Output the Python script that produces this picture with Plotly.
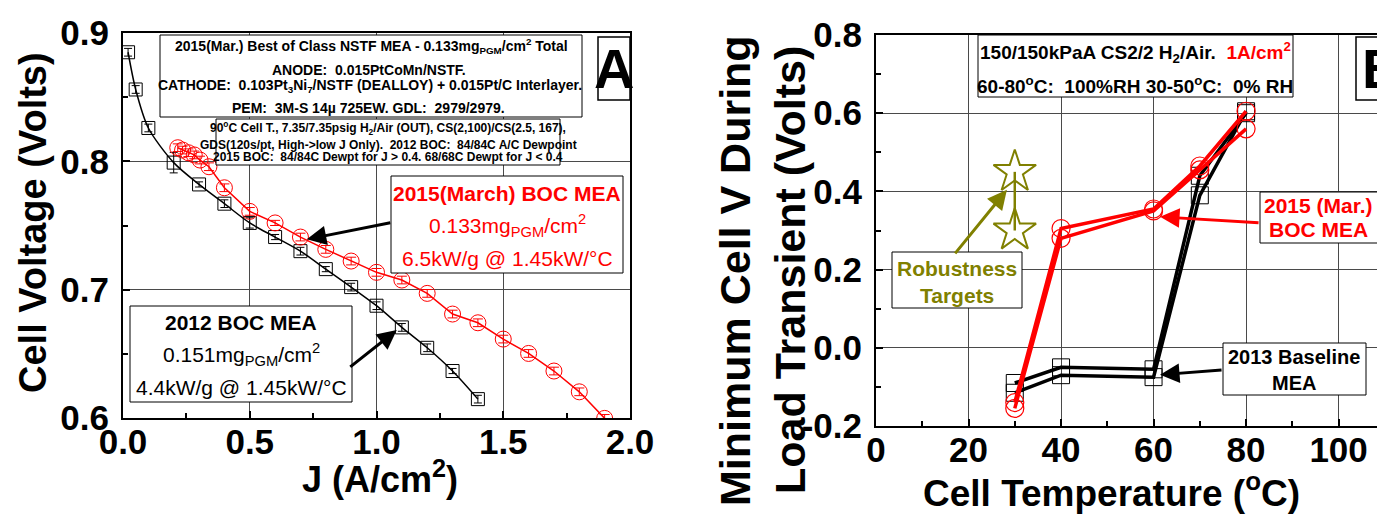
import plotly.graph_objects as go

W, H = 1377, 514
FONT = "Liberation Sans"
NARROW = "Liberation Sans Narrow, Arial Narrow, Liberation Sans"
OLIVE = "#808000"

# ---------------- Panel A data ----------------
j_2012 = [0.02, 0.05, 0.1, 0.2, 0.3, 0.4, 0.5, 0.6, 0.7, 0.8, 0.9, 1.0, 1.1, 1.2, 1.3, 1.4]
v_2012 = [0.885, 0.856, 0.826, 0.799, 0.782, 0.767, 0.752, 0.741, 0.730, 0.716, 0.702,
          0.6875, 0.6706, 0.6547, 0.6366, 0.6147]
e_2012 = [0.003, 0.003, 0.003, 0.008, 0.002, 0.003, 0.004, 0.002, 0.003, 0.002, 0.003,
          0.003, 0.003, 0.003, 0.002, 0.003]

j_2015 = [0.216, 0.235, 0.258, 0.281, 0.304, 0.339, 0.4, 0.5, 0.6, 0.7, 0.8, 0.9, 1.0,
          1.1, 1.2, 1.3, 1.4, 1.5, 1.6, 1.7, 1.8, 1.9]
v_2015 = [0.8106, 0.8088, 0.8067, 0.805, 0.801, 0.7958, 0.7794, 0.761, 0.752, 0.741,
          0.7314, 0.7223, 0.7135, 0.7075, 0.6971, 0.681, 0.6742, 0.6615, 0.6503, 0.6366,
          0.6204, 0.5997]
e_2015 = [0.003, 0.003, 0.003, 0.003, 0.003, 0.003, 0.003, 0.003, 0.002, 0.003, 0.003,
          0.003, 0.003, 0.003, 0.003, 0.003, 0.003, 0.003, 0.003, 0.003, 0.003, 0.003]

xA_ticks = [0.0, 0.5, 1.0, 1.5, 2.0]
yA_ticks = [0.6, 0.7, 0.8, 0.9]

# ---------------- Panel B data ----------------
temp = [30, 40, 60, 70, 80]
base_run1 = [-0.09, -0.05, -0.055, 0.44, 0.60]
base_run2 = [-0.115, -0.07, -0.075, 0.39, 0.605]
boc_run1 = [-0.14, 0.305, 0.355, 0.465, 0.605]
boc_run2 = [-0.155, 0.28, 0.35, 0.455, 0.56]
target_temp = [30, 30]
target_v = [0.30, 0.45]

xB_ticks = [0, 20, 40, 60, 80, 100]
yB_ticks = [-0.2, 0.0, 0.2, 0.4, 0.6, 0.8]
yB_labels = ["-0.2", "0.0", "0.2", "0.4", "0.6", "0.8"]

fig = go.Figure()

# Panel A traces
fig.add_trace(go.Scatter(
    x=j_2012, y=v_2012, mode="lines+markers", xaxis="x", yaxis="y",
    line=dict(color="black", width=1.5, shape="spline", smoothing=0.8),
    marker=dict(symbol="square-open", size=13, color="black", line=dict(width=1)),
    error_y=dict(type="data", array=e_2012, color="black", thickness=1, width=4),
    showlegend=False, cliponaxis=True))
fig.add_trace(go.Scatter(
    x=j_2015, y=v_2015, mode="lines+markers", xaxis="x", yaxis="y",
    line=dict(color="red", width=1.5),
    marker=dict(symbol="circle-open", size=16, color="red", line=dict(width=1)),
    error_y=dict(type="data", array=e_2015, color="red", thickness=1, width=5),
    showlegend=False, cliponaxis=True))

# Panel B traces
for run in (base_run1, base_run2):
    fig.add_trace(go.Scatter(
        x=temp, y=run, mode="lines+markers", xaxis="x2", yaxis="y2",
        line=dict(color="black", width=3.5),
        marker=dict(symbol="square-open", size=17, color="black", line=dict(width=1)),
        showlegend=False))
for run in (boc_run1, boc_run2):
    fig.add_trace(go.Scatter(
        x=temp, y=run, mode="lines+markers", xaxis="x2", yaxis="y2",
        line=dict(color="red", width=3.5),
        marker=dict(symbol="circle-open", size=18, color="red", line=dict(width=1.2)),
        showlegend=False))
fig.add_trace(go.Scatter(
    x=target_temp, y=target_v, mode="lines+markers", xaxis="x2", yaxis="y2",
    line=dict(color=OLIVE, width=2.5),
    marker=dict(symbol="star-open", size=32, color=OLIVE, line=dict(width=2)),
    showlegend=False))

grid = "#4a4a4a"
tickfont = dict(family=FONT, size=35, color="black", weight="bold")

def ax_common():
    return dict(showline=True, linecolor="black", linewidth=2, mirror=True,
                showgrid=True, gridcolor=grid, gridwidth=1,
                ticks="inside", ticklen=7, tickwidth=1.5, tickcolor="black",
                zeroline=False, automargin=False, tickfont=tickfont)

fig.update_layout(
    width=W, height=H, margin=dict(l=0, r=0, t=0, b=0),
    paper_bgcolor="white", plot_bgcolor="white",
    xaxis=dict(domain=[123 / W, 630 / W], range=[0, 2.0], tickvals=xA_ticks,
               tickformat=".1f", anchor="y",
               minor=dict(ticks="inside", ticklen=5, dtick=0.25, tick0=0, tickcolor="black"),
               ticklabelstandoff=-8, **ax_common()),
    yaxis=dict(domain=[1 - 418 / H, 1 - 33 / H], range=[0.6, 0.9], tickvals=yA_ticks,
               tickformat=".1f", anchor="x",
               minor=dict(ticks="inside", ticklen=5, dtick=0.05, tick0=0.6, tickcolor="black"),
               ticklabelstandoff=5, **ax_common()),
    xaxis2=dict(domain=[876 / W, 1.0], range=[0, 108.3], tickvals=xB_ticks, anchor="y2",
                minor=dict(ticks="inside", ticklen=5, dtick=10, tick0=0, tickcolor="black"),
                ticklabelstandoff=-8, **ax_common()),
    yaxis2=dict(domain=[1 - 426 / H, 1 - 35 / H], range=[-0.2, 0.8], tickvals=yB_ticks,
                ticktext=yB_labels, anchor="x2",
                minor=dict(ticks="inside", ticklen=5, dtick=0.1, tick0=0, tickcolor="black"),
                ticklabelstandoff=5, **{**ax_common(), "mirror": False}),
)


def T(x, y, s, size, color="black", family=FONT, xanchor="center", angle=0):
    fig.add_annotation(x=x / W, y=1 - y / H, xref="paper", yref="paper", text=s,
                       showarrow=False, xanchor=xanchor, yanchor="middle",
                       textangle=angle, font=dict(family=family, size=size, color=color))


def BOX(x0, y0, x1, y1, color="black", width=1):
    fig.add_shape(type="rect", xref="paper", yref="paper", x0=x0 / W, x1=x1 / W,
                  y0=1 - y1 / H, y1=1 - y0 / H, line=dict(color=color, width=width),
                  fillcolor="white", layer="above")


def ARROW(xd, yd, ax, ay, color, xr="x", yr="y", width=3):
    fig.add_annotation(x=xd, y=yd, xref=xr, yref=yr, ax=ax, ay=ay, axref="pixel",
                       ayref="pixel", text="", showarrow=True, arrowhead=2,
                       arrowsize=1.3, arrowwidth=width, arrowcolor=color)

S = "\u00a0"
# ---------- Panel A annotations ----------
BOX(160, 35, 582, 117)
T(371, 46, "<b>2015(Mar.) Best of Class NSTF MEA - 0.133mg<sub>PGM</sub>/cm<sup>2</sup> Total</b>", 14, family=NARROW)
T(369, 70, f"<b>ANODE:{S}{S}0.015PtCoMn/NSTF.</b>", 14, family=NARROW)
T(370, 86, f"<b>CATHODE:{S}{S}0.103Pt<sub>3</sub>Ni<sub>7</sub>/NSTF (DEALLOY) + 0.015Pt/C Interlayer.</b>", 14, family=NARROW)
T(368, 108, f"<b>PEM:{S}{S}3M-S 14\u00b5 725EW. GDL:{S}{S}2979/2979.</b>", 14, family=NARROW)

BOX(216, 119, 560, 165)
T(388, 128, "<b>90<sup>o</sup>C Cell T., 7.35/7.35psig H<sub>2</sub>/Air (OUT), CS(2,100)/CS(2.5, 167),</b>", 12, family=NARROW)
T(388, 145, f"<b>GDS(120s/pt, High->low J Only).{S}{S}2012 BOC:{S}{S}84/84C A/C Dewpoint</b>", 12, family=NARROW)
T(388, 157, f"<b>2015 BOC:{S}{S}84/84C Dewpt for J > 0.4. 68/68C Dewpt for J < 0.4</b>", 12, family=NARROW)

BOX(598, 37, 630, 100, width=1.5)
T(614, 69, "<b>A</b>", 56, family=NARROW)

BOX(391, 176, 623, 273)
T(507, 193, "<b>2015(March) BOC MEA</b>", 21, color="red")
T(507, 225, "0.133mg<sub>PGM</sub>/cm<sup>2</sup>", 21, color="red")
T(507, 258, "6.5kW/g @ 1.45kW/\u00b0C", 21, color="red")
ARROW(0.725, 0.7392, 85, -17, "black")

BOX(130, 306, 352, 402)
T(241, 322, "<b>2012 BOC MEA</b>", 21)
T(241, 354, "0.151mg<sub>PGM</sub>/cm<sup>2</sup>", 21)
T(241, 387, "4.4kW/g @ 1.45kW/\u00b0C", 21)
ARROW(1.08, 0.6685, -48, 38, "black")

# axis titles A
T(33, 223, "<b>Cell Voltage (Volts)</b>", 38, angle=-90)
T(380, 477, "<b>J (A/cm<sup>2</sup>)</b>", 36)

# ---------- Panel B annotations ----------
BOX(978, 35, 1293, 97)
T(1135, 53, f"<b>150/150kPaA CS2/2 H<sub>2</sub>/Air.{S}{S}<span style='color:red'>1A/cm<sup>2</sup></span></b>", 19, family=NARROW)
T(1135, 85, f"<b>60-80<sup>o</sup>C:{S}{S}100%RH 30-50<sup>o</sup>C:{S}{S}0% RH</b>", 19, family=NARROW)

BOX(1356, 37, 1400, 100, width=1.5)
T(1360, 69, "<b>B</b>", 56, family=NARROW, xanchor="left")

BOX(892, 252, 1022, 308)
T(957, 268, "<b>Robustness</b>", 21, color=OLIVE)
T(957, 295, "<b>Targets</b>", 21, color=OLIVE)
ARROW(28.3, 0.404, -53, 65, OLIVE, "x2", "y2")

BOX(1260, 192, 1400, 243)
T(1318, 205, "<b>2015 (Mar.)</b>", 21, color="red")
T(1318, 230, "<b>BOC MEA</b>", 21, color="red")
ARROW(61.4, 0.335, 100, 6, "red", "x2", "y2")

BOX(1223, 343, 1366, 395)
T(1294, 357, "<b>2013 Baseline</b>", 20)
T(1294, 383, "<b>MEA</b>", 20)
ARROW(61.4, -0.069, 63, -5, "black", "x2", "y2")

T(735, 270, "<b>Minimum Cell V During</b>", 43, angle=-90)
T(790, 270, "<b>Load Transient (Volts)</b>", 43, angle=-90)
T(1111, 490, "<b>Cell Temperature (<sup>o</sup>C)</b>", 37)

fig.write_html("out.html")
